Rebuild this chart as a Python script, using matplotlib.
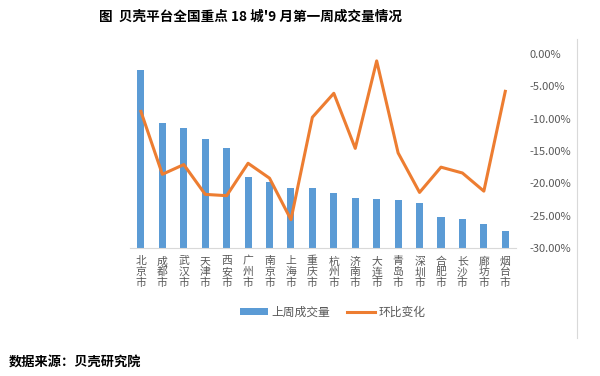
import numpy as np
import matplotlib
matplotlib.use('Agg')
import matplotlib.pyplot as plt
from matplotlib.ticker import FuncFormatter

plt.rcParams['font.family'] = ['Noto Sans CJK SC', 'DejaVu Sans']

cities = ['北京市', '成都市', '武汉市', '天津市', '西安市', '广州市', '南京市', '上海市', '重庆市',
          '杭州市', '济南市', '大连市', '青岛市', '深圳市', '合肥市', '长沙市', '廊坊市', '烟台市']
volume = [1836, 1292, 1241, 1128, 1026, 734, 683, 622, 615,
          564, 513, 503, 492, 468, 318, 297, 249, 181]
change = [-8.9, -18.6, -17.1, -21.7, -21.9, -16.9, -19.2, -25.6, -9.8,
          -6.1, -14.6, -1.1, -15.3, -21.4, -17.5, -18.4, -21.2, -5.8]

bar_color = '#5B9BD5'
line_color = '#ED7D31'
gray = '#595959'

fig = plt.figure(figsize=(6, 3.76), dpi=100)
ax = fig.add_axes([0.217, 0.34, 0.643, 0.517])
x = np.arange(len(cities))

bars = ax.bar(x, volume, width=0.33, color=bar_color, label='上周成交量', zorder=2)
ax.set_ylim(0, 2000)
ax.set_xlim(-0.5, len(cities) - 0.5)
ax.set_yticks([])
for s in ['top', 'right', 'left']:
    ax.spines[s].set_visible(False)
ax.spines['bottom'].set_color('#D9D9D9')
ax.set_xticks(x)
ax.set_xticklabels(['\n'.join(c) for c in cities], fontsize=7.8, color=gray, linespacing=1.05)
ax.tick_params(axis='x', length=0, pad=6)

ax2 = ax.twinx()
line, = ax2.plot(x, change, color=line_color, linewidth=2.2, label='环比变化', zorder=3)
ax2.set_ylim(-30, 0)
ax2.set_yticks(np.arange(-30, 1, 5))
ax2.yaxis.set_major_formatter(FuncFormatter(lambda v, p: '%.2f%%' % v))
for s in ['top', 'right', 'left', 'bottom']:
    ax2.spines[s].set_visible(False)
ax2.tick_params(axis='y', length=0, pad=10, labelsize=8, labelcolor=gray)

fig.legend([bars, line], ['上周成交量', '环比变化'], loc='center', bbox_to_anchor=(0.555, 0.17),
           ncol=2, frameon=False, fontsize=8.5, handlelength=2.4, handleheight=0.45,
           handletextpad=0.3, columnspacing=1.4, labelcolor=gray)

fig.text(0.417, 0.955, "图  贝壳平台全国重点 18 城'9 月第一周成交量情况", ha='center', va='center',
         fontsize=9.8, fontweight='bold', color='black')
fig.text(0.015, 0.035, '数据来源：贝壳研究院', ha='left', va='center',
         fontsize=9.5, fontweight='bold', color='black')

fig.add_artist(plt.Line2D([0.962, 0.962], [0.1, 0.895], transform=fig.transFigure,
                          color='#D9D9D9', linewidth=0.8))

fig.savefig('out.png', dpi=100)
